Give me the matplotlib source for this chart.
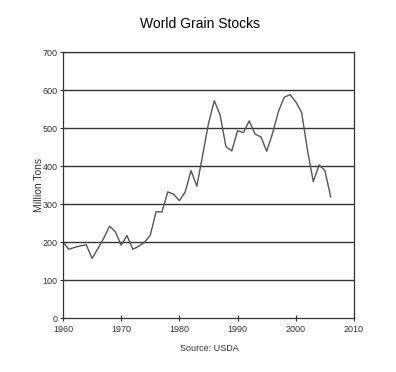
import matplotlib
matplotlib.use('Agg')
import matplotlib.pyplot as plt

plt.rcParams['font.family'] = ['Liberation Sans', 'DejaVu Sans']

# data (million tons)
years = list(range(1960, 2007))
stocks = [200, 181, 186, 190, 193, 157, 183, 210, 242, 227,
          192, 217, 181, 189, 199, 218, 280, 279, 332, 326,
          309, 332, 388, 347, 429, 512, 572, 534, 451, 440,
          493, 488, 519, 484, 477, 439, 486, 543, 581, 588,
          569, 541, 442, 359, 403, 388, 319]
yticks = [0, 100, 200, 300, 400, 500, 600, 700]
xticks = [1960, 1970, 1980, 1990, 2000, 2010]

fig = plt.figure(figsize=(3.96, 3.72), dpi=100)
ax = fig.add_axes([0.159, 0.145, 0.735, 0.715])

for v in yticks[1:]:
    ax.axhline(v, color='#333333', lw=1.0, zorder=1)
ax.plot(years, stocks, color='#555555', lw=1.0, zorder=2)

ax.set_xlim(1960, 2010)
ax.set_ylim(0, 700)
ax.set_xticks(xticks)
ax.set_yticks(yticks)
tick_font = ['Liberation Sans Narrow', 'Liberation Sans', 'DejaVu Sans']
for lab in ax.get_xticklabels() + ax.get_yticklabels():
    lab.set_family(tick_font)
    lab.set_fontsize(6.5)
    lab.set_color('#333333')
ax.tick_params(direction='inout', length=4, width=0.8, color='#333333', pad=2)
ax.tick_params(axis='x', pad=3)
for sp in ax.spines.values():
    sp.set_color('#333333')
    sp.set_linewidth(0.9)

ax.set_ylabel('Million Tons', fontsize=7.5, color='#333333', labelpad=-1)
fig.text(0.505, 0.935, 'World Grain Stocks', ha='center', va='center', fontsize=10)
fig.text(0.528, 0.063, 'Source: USDA', ha='center', va='center', fontsize=6.5,
         family=tick_font, color='#333333')

plt.savefig('out.png', dpi=100)
